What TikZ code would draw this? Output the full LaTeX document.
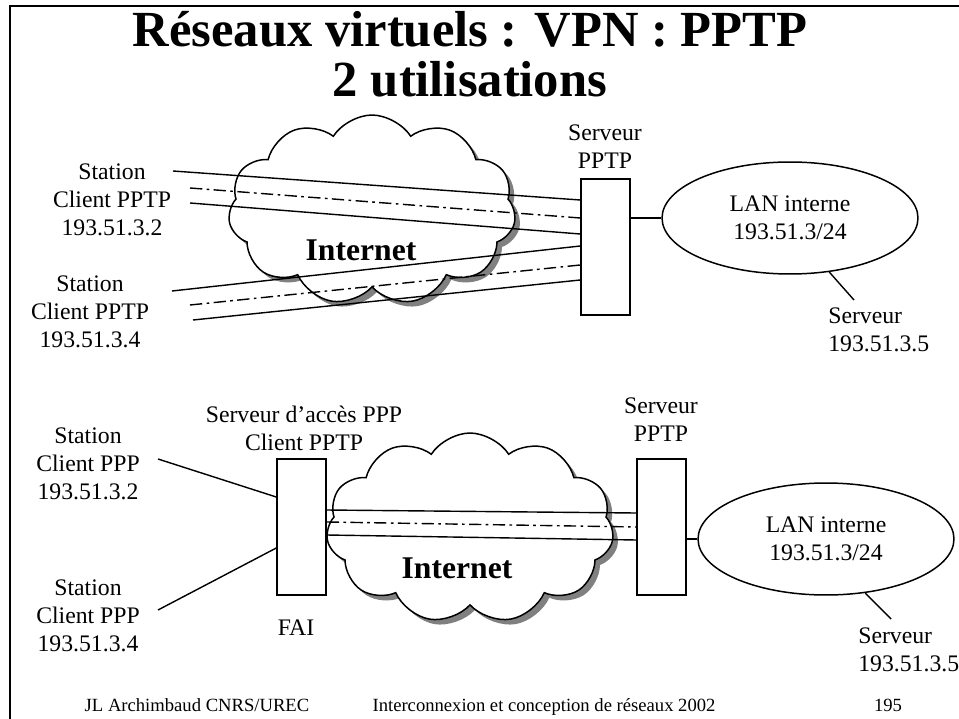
\documentclass[tikz,border=0pt]{standalone}
\usepackage{fontspec}
\setmainfont{Liberation Serif}
\usetikzlibrary{positioning, calc, shapes.geometric, shapes.symbols, shadows}
\tikzset{
  lbl/.style={align=center, font=\fontsize{13.5}{15.9}\selectfont, inner sep=0pt},
  ttl/.style={font=\fontsize{28.8}{28}\selectfont\bfseries, inner sep=0pt, anchor=base},
  foot/.style={font=\fontsize{10.6}{12}\selectfont, inner sep=0pt, anchor=base},
  inet/.style={font=\fontsize{18}{20}\selectfont\bfseries, inner sep=0pt},
  srv/.style={draw, line width=0.85pt, fill=white, minimum width=0.98cm, minimum height=2.72cm, inner sep=0pt},
  lan/.style={draw, ellipse, line width=0.85pt, minimum width=5.12cm, minimum height=2.24cm, inner sep=0pt,
    align=center, font=\fontsize{13.5}{15.9}\selectfont},
  net/.style={draw, cloud, cloud puffs=11, cloud puff arc=115, aspect=1.5, line width=0.85pt, fill=white,
    minimum width=5.75cm, minimum height=3.8cm,
    drop shadow={shadow xshift=0.1cm, shadow yshift=-0.1cm, fill=black!50, opacity=1}},
  tun/.style={line width=0.8pt},
  tunc/.style={line width=0.8pt, dash pattern=on 7pt off 2.5pt on 1.5pt off 2.5pt},
}

\begin{document}
\begin{tikzpicture}[x=0.02cm, y=-0.02cm]
  \useasboundingbox (0,0) rectangle (959,719);
  \draw[line width=1.1pt] (10,719) -- (10,6) -- (959,6);

  % title
  \node[ttl] (title1) at (470,47) {Réseaux virtuels : VPN : PPTP};
  \node[ttl] (title2) at (470,97) {2 utilisations};

  % --- first use: client PPTP on the station
  \node[net] (cloudA) at (372,210) {};
  \node[inet] (inetA) at (361,250) {Internet};
  \node[srv] (pptpA) at (605.5,247) {};
  \node[lbl] (pptpAl) at (605,147) {Serveur\\PPTP};
  \node[lan] (lanA) at (790,218) {LAN interne\\193.51.3/24};
  \node[lbl, align=left, anchor=west] (srvA) at (828,330) {Serveur\\193.51.3.5};
  \node[lbl] (stA) at (112,200) {Station\\Client PPTP\\193.51.3.2};
  \node[lbl] (stB) at (90,312) {Station\\Client PPTP\\193.51.3.4};

  \coordinate (a1) at (173,171);
  \coordinate (a2) at (190,188);
  \coordinate (a3) at (190,203);
  \coordinate (b1) at (172,291);
  \coordinate (b2) at (190,305);
  \coordinate (b3) at (193,320);
  \coordinate (srvAend) at (854,300);

  \draw[tun] (a1) -- ([yshift=0.94cm]pptpA.west);
  \draw[tunc] (a2) -- ([yshift=0.58cm]pptpA.west);
  \draw[tun] (a3) -- ([yshift=0.26cm]pptpA.west);
  \draw[tun] (b1) -- ([yshift=0.02cm]pptpA.west);
  \draw[tunc] (b2) -- ([yshift=-0.36cm]pptpA.west);
  \draw[tun] (b3) -- ([yshift=-0.66cm]pptpA.west);
  \draw[tun] (pptpA.east |- lanA.west) -- (lanA.west);
  \draw[tun] (lanA.-54) -- (srvAend);

  % --- second use: client PPTP at the ISP
  \node[net] (cloudB) at (470,528) {};
  \node[inet] (inetB) at (457,568) {Internet};
  \node[srv] (fai) at (301.5,527) {};
  \node[lbl] (faiTop) at (304,428) {Serveur d’accès PPP\\Client PPTP};
  \node[lbl] (faiL) at (296,628) {FAI};
  \node[srv] (pptpB) at (661.5,527) {};
  \node[lbl] (pptpBl) at (661,420) {Serveur\\PPTP};
  \node[lan] (lanB) at (826,539) {LAN interne\\193.51.3/24};
  \node[lbl, align=left, anchor=west] (srvB) at (858,650) {Serveur\\193.51.3.5};
  \node[lbl] (stC) at (88,464) {Station\\Client PPP\\193.51.3.2};
  \node[lbl] (stD) at (88,616) {Station\\Client PPP\\193.51.3.4};

  \coordinate (c1) at (158,459);
  \coordinate (d1) at (158,610);
  \coordinate (srvBend) at (891,619);

  \draw[tun] (c1) -- ([yshift=0.6cm]fai.west);
  \draw[tun] (d1) -- ([yshift=-0.42cm]fai.west);
  \draw[tun] ([yshift=0.34cm]fai.east) -- ([yshift=0.28cm]pptpB.west);
  \draw[tunc] ([yshift=0.1cm]fai.east) -- (pptpB.west);
  \draw[tun] ([yshift=-0.16cm]fai.east) -- ([yshift=-0.26cm]pptpB.west);
  \draw[tun] (pptpB.east |- lanB.west) -- (lanB.west);
  \draw[tun] (lanB.-54) -- (srvBend);

  % footer
  \node[foot] (ftA) at (197,711) {JL Archimbaud CNRS/UREC};
  \node[foot] (ftB) at (544,711) {Interconnexion et conception de réseaux 2002};
  \node[foot] (ftC) at (888,711) {195};
\end{tikzpicture}
\end{document}
